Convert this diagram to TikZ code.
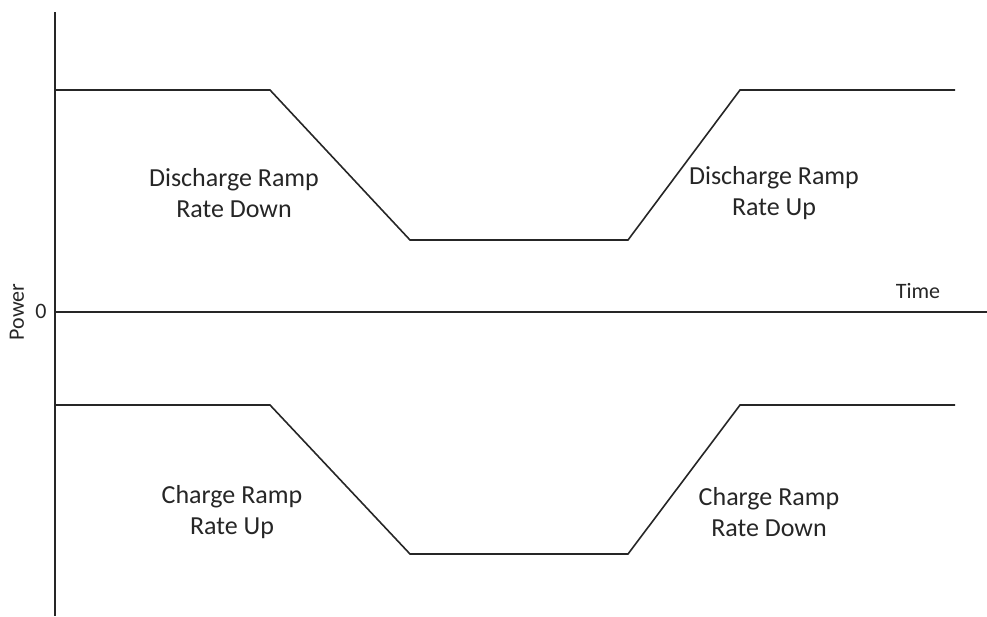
\documentclass[tikz,border=0pt]{standalone}
\usepackage{fontspec}
\setmainfont{Carlito}
\begin{document}
\begin{tikzpicture}[x=1pt,y=-1pt,
  axis/.style={line width=2pt,black!85},
  trace/.style={line width=1.6pt,black!85},
  lbl/.style={font=\fontsize{26}{31}\selectfont,align=center,text=black!85,inner sep=0pt},
  small/.style={font=\fontsize{22}{24}\selectfont,text=black!85,inner sep=0pt}]
\useasboundingbox (0,0) rectangle (987,616);
\coordinate (ytop) at (55,12);
\coordinate (ybot) at (55,616);
\coordinate (xl) at (55,312);
\coordinate (xr) at (987,312);
\draw[axis] (ytop) -- (ybot);
\draw[axis] (xl) -- (xr);
% upper trace
\coordinate (u0) at (55,90);
\coordinate (u1) at (270,90);
\coordinate (u2) at (410,240);
\coordinate (u3) at (628,240);
\coordinate (u4) at (740,90);
\coordinate (u5) at (955,90);
\draw[trace] (u0) -- (u1) -- (u2) -- (u3) -- (u4) -- (u5);
% lower trace
\coordinate (l0) at (55,405);
\coordinate (l1) at (270,405);
\coordinate (l2) at (410,554);
\coordinate (l3) at (628,554);
\coordinate (l4) at (740,405);
\coordinate (l5) at (955,405);
\draw[trace] (l0) -- (l1) -- (l2) -- (l3) -- (l4) -- (l5);
% labels
\node[lbl] (dd) at (234,193) {Discharge Ramp\\Rate Down};
\node[lbl] (du) at (774,193) {Discharge Ramp\\Rate Up};
\node[lbl] (cu) at (232,512) {Charge Ramp\\Rate Up};
\node[lbl] (cd) at (769,512) {Charge Ramp\\Rate Down};
\node[small] (time) at (918,291) {Time};
\node[small] (zero) at (41,311) {0};
\node[small,rotate=90] (power) at (17,312) {Power};
\end{tikzpicture}
\end{document}
